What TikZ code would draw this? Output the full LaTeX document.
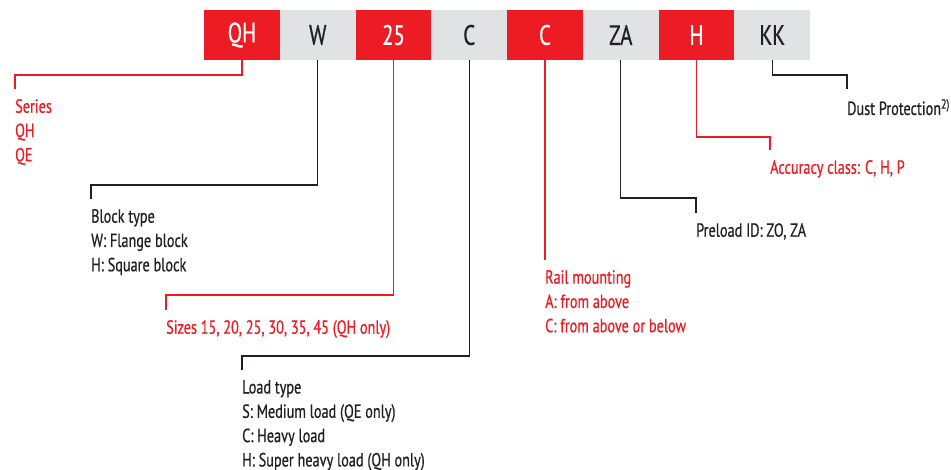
\documentclass[tikz,border=0pt]{standalone}
\usepackage{fontspec}
\setmainfont[FakeStretch=0.75, FakeBold=0.6]{PT Sans}
\usetikzlibrary{positioning}
\definecolor{codered}{HTML}{ED1C24}
\definecolor{codegrey}{HTML}{E1E2E4}
\definecolor{codeink}{HTML}{231F20}
\tikzset{
  codebox/.style={minimum width=75.75pt, minimum height=50pt, inner sep=0pt, outer sep=0pt, font=\fontsize{28}{28}\selectfont},
  redbox/.style={codebox, fill=codered, text=white},
  greybox/.style={codebox, fill=codegrey, text=codeink},
  desc/.style={anchor=north west, align=left, inner xsep=0pt, inner ysep=10pt, font=\fontsize{19}{24.3}\selectfont},
  reddesc/.style={desc, text=codered},
  inkdesc/.style={desc, text=codeink},
  redline/.style={draw=codered, line width=1.2pt},
  inkline/.style={draw=codeink, line width=1.2pt},
}
\begin{document}
\begin{tikzpicture}[x=1pt, y=-1pt]
\useasboundingbox[fill=white] (0,0) rectangle (951,470);
% the ordering code
\node[redbox] (series) at (242,35) {QH};
\node[greybox, right=0pt of series] (block) {W};
\node[redbox, right=0pt of block] (size) {25};
\node[greybox, right=0pt of size] (load) {C};
\node[redbox, right=0pt of load] (rail) {C};
\node[greybox, right=0pt of rail] (preload) {ZA};
\node[redbox, right=0pt of preload] (accuracy) {H};
\node[greybox, right=0pt of accuracy] (dust) {KK};
% descriptions
\node[reddesc] (seriestxt) at (15,89) {Series\\QH\\QE};
\node[inkdesc] (blocktxt) at (91,199) {Block type\\W: Flange block\\H: Square block};
\node[reddesc] (sizetxt) at (166,310) {Sizes 15, 20, 25, 30, 35, 45 (QH only)};
\node[inkdesc] (loadtxt) at (242,370) {Load type\\S: Medium load (QE only)\\C: Heavy load\\H: Super heavy load (QH only)};
\node[reddesc] (railtxt) at (rail.south |- 0,260) {Rail mounting\\A: from above\\C: from above or below};
\node[inkdesc] (preloadtxt) at (696,213) {Preload ID: ZO, ZA};
\node[reddesc] (accuracytxt) at (770,150) {Accuracy class: C, H, P};
\node[inkdesc] (dusttxt) at (847,89) {Dust Protection\textsuperscript{2)}};
% bends
\coordinate (seriesbend) at (15,75);
\coordinate (blockbend) at (91,185);
\coordinate (sizebend) at (166,295);
\coordinate (loadbend) at (242,356);
\coordinate (preloadbend) at (696,198);
\coordinate (accuracybend) at (770,137);
\coordinate (dustbend) at (847,75);
% connectors
\draw[redline] (series.south) |- (seriesbend) -- (seriestxt.north west);
\draw[inkline] (block.south) |- (blockbend) -- (blocktxt.north west);
\draw[redline] (size.south) |- (sizebend) -- (sizetxt.north west);
\draw[inkline] (load.south) |- (loadbend) -- (loadtxt.north west);
\draw[redline] (rail.south) -- (railtxt.north west);
\draw[inkline] (preload.south) |- (preloadbend) -- (preloadtxt.north west);
\draw[redline] (accuracy.south) |- (accuracybend) -- (accuracytxt.north west);
\draw[inkline] (dust.south) |- (dustbend) -- (dusttxt.north west);
\end{tikzpicture}
\end{document}
